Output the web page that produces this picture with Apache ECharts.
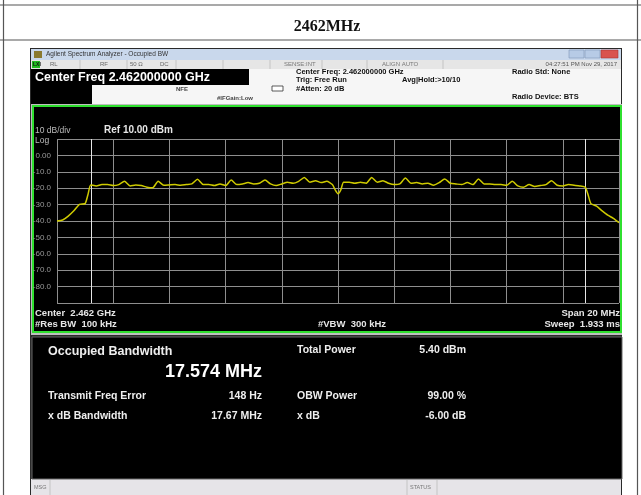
<!DOCTYPE html>
<html>
<head>
<meta charset="utf-8">
<title>2462MHz Occupied BW</title>
<script src="https://cdn.jsdelivr.net/npm/echarts@6/dist/echarts.min.js"></script>
<style>
  html, body { margin: 0; padding: 0; background: #fff; }
  #chart { width: 641px; height: 495px; }
</style>
</head>
<body>
<div id="chart"></div>
<script>
// trace (MHz / dBm)
const freqMHz = [
  2452.0, 2452.2, 2452.4, 2452.6, 2452.8, 2453.0, 2453.1, 2453.2, 2453.4, 2453.6,
  2453.8, 2454.0, 2454.2, 2454.4, 2454.6, 2454.8, 2455.0, 2455.2, 2455.4, 2455.6,
  2455.8, 2456.0, 2456.2, 2456.4, 2456.6, 2456.8, 2457.0, 2457.2, 2457.4, 2457.6,
  2457.8, 2458.0, 2458.2, 2458.4, 2458.6, 2458.8, 2459.0, 2459.2, 2459.4, 2459.6,
  2459.8, 2460.0, 2460.2, 2460.4, 2460.6, 2460.8, 2461.0, 2461.2, 2461.4, 2461.6,
  2461.8, 2461.9, 2462.0, 2462.1, 2462.2, 2462.4, 2462.6, 2462.8, 2463.0, 2463.2,
  2463.4, 2463.6, 2463.8, 2464.0, 2464.2, 2464.4, 2464.6, 2464.8, 2465.0, 2465.2,
  2465.4, 2465.6, 2465.8, 2466.0, 2466.2, 2466.4, 2466.6, 2466.8, 2467.0, 2467.2,
  2467.4, 2467.6, 2467.8, 2468.0, 2468.2, 2468.4, 2468.6, 2468.8, 2469.0, 2469.2,
  2469.4, 2469.6, 2469.8, 2470.0, 2470.2, 2470.4, 2470.6, 2470.8, 2470.9, 2471.0,
  2471.2, 2471.4, 2471.6, 2471.8, 2472.0
];
const levelDbm = [
  -40.0, -39.4, -37.0, -33.8, -29.8, -29.4, -24.0, -18.0, -18.6, -17.8,
  -17.8, -18.4, -17.8, -15.8, -18.6, -18.0, -18.4, -19.4, -19.8, -15.8,
  -18.2, -18.0, -17.8, -18.2, -17.8, -17.4, -14.6, -17.8, -17.8, -18.4,
  -17.4, -18.4, -15.0, -17.8, -17.4, -16.6, -17.4, -17.0, -15.0, -17.4,
  -18.4, -17.4, -16.4, -17.0, -15.8, -13.4, -16.4, -15.4, -16.6, -15.8,
  -17.8, -21.0, -23.4, -21.0, -16.4, -16.4, -17.0, -16.4, -17.0, -13.4,
  -16.4, -15.4, -17.0, -17.8, -17.4, -13.8, -17.0, -16.6, -17.4, -17.0,
  -18.2, -16.6, -14.4, -17.0, -17.4, -17.8, -16.6, -17.8, -14.4, -17.4,
  -17.4, -17.8, -17.8, -18.2, -15.8, -18.6, -19.4, -17.8, -19.0, -18.4,
  -17.8, -15.4, -18.2, -18.6, -17.8, -18.2, -18.6, -19.4, -24.0, -29.4,
  -31.0, -33.8, -36.4, -38.4, -41.0
];
const obwEdges = [2453.213, 2470.787];
const yTicks = [10, 0, -10, -20, -30, -40, -50, -60, -70, -80, -90];
const yTickLabels = ['', '0.00', '-10.0', '-20.0', '-30.0', '-40.0', '-50.0', '-60.0', '-70.0', '-80.0', ''];

const SANS = '"Liberation Sans", Arial, sans-serif';

function rect(x, y, w, h, fill, z, stroke, lw) {
  return {
    type: 'rect', z: z || 0, silent: true,
    shape: { x: x, y: y, width: w, height: h },
    style: { fill: fill, stroke: stroke || null, lineWidth: lw || 0 }
  };
}
function line(x1, y1, x2, y2, color, lw, z) {
  return {
    type: 'line', z: z || 1, silent: true,
    shape: { x1: x1, y1: y1, x2: x2, y2: y2 },
    style: { stroke: color, lineWidth: lw || 1 }
  };
}
function txt(x, y, s, font, color, align) {
  return {
    type: 'text', z: 20, silent: true,
    style: {
      text: s, x: x, y: y, font: font, fill: color,
      align: align || 'left', textAlign: align || 'left',
      verticalAlign: 'middle', textVerticalAlign: 'middle'
    }
  };
}

const graphics = [
  // document table
  line(0, 5, 641, 5, '#555', 1.2),
  line(0, 40, 641, 40, '#555', 1.2),
  line(3.5, 0, 3.5, 495, '#555', 1.2),
  line(637.5, 0, 637.5, 495, '#555', 1.2),
  txt(327, 27, '2462MHz', 'bold 16px "Liberation Serif", serif', '#111', 'center'),

  // analyzer window
  rect(30, 48, 592, 447, '#2a2a2a', -5),
  rect(31, 49, 590, 11, '#c9d8ec', -4),
  rect(34, 51, 8, 7, '#8a7a30', -3),
  txt(46, 54.5, 'Agilent Spectrum Analyzer - Occupied BW', '6.5px ' + SANS, '#333'),
  rect(569, 50, 15, 8, '#b7cbe6', -3, '#7f97b8', 0.6),
  rect(585, 50, 15, 8, '#b7cbe6', -3, '#7f97b8', 0.6),
  rect(601, 50, 17, 8, '#d9534f', -3, '#a33', 0.6),
  rect(31, 60, 590, 9, '#e6e6e6', -4),
  rect(32, 61, 8, 7, '#22bb22', -3),
  txt(33, 64.5, 'LXI', 'bold 5px ' + SANS, '#111'),
  txt(50, 64.5, 'RL', '6px ' + SANS, '#666'),
  txt(100, 64.5, 'RF', '6px ' + SANS, '#666'),
  txt(130, 64.5, '50 \u03a9', '6px ' + SANS, '#666'),
  txt(160, 64.5, 'DC', '6px ' + SANS, '#666'),
  txt(284, 64.5, 'SENSE:INT', '6px ' + SANS, '#777'),
  txt(382, 64.5, 'ALIGN AUTO', '6px ' + SANS, '#777'),
  txt(617, 64.5, '04:27:51 PM Nov 29, 2017', '6px ' + SANS, '#555', 'right'),
  line(80, 60, 80, 69, '#bbb', 0.8), line(127, 60, 127, 69, '#bbb', 0.8),
  line(176, 60, 176, 69, '#bbb', 0.8), line(223, 60, 223, 69, '#bbb', 0.8),
  line(270, 60, 270, 69, '#bbb', 0.8), line(322, 60, 322, 69, '#bbb', 0.8),
  line(367, 60, 367, 69, '#bbb', 0.8), line(443, 60, 443, 69, '#bbb', 0.8),

  // settings header
  rect(31, 69, 590, 35, '#f6f6f6', -4),
  rect(31, 69, 218, 16, '#000', -3),
  rect(31, 85, 61, 19, '#000', -3),
  txt(35, 77.5, 'Center Freq 2.462000000 GHz', 'bold 12.5px ' + SANS, '#fff'),
  txt(176, 89, 'NFE', 'bold 6px ' + SANS, '#444'),
  txt(217, 98, '#IFGain:Low', 'bold 6px ' + SANS, '#444'),
  rect(272, 86, 11, 5, '#fff', -2, '#333', 0.8),
  txt(296, 71.5, 'Center Freq: 2.462000000 GHz', 'bold 7.5px ' + SANS, '#111'),
  txt(296, 80, 'Trig: Free Run', 'bold 7.5px ' + SANS, '#111'),
  txt(402, 80, 'Avg|Hold:>10/10', 'bold 7.5px ' + SANS, '#111'),
  txt(296, 88.5, '#Atten: 20 dB', 'bold 7.5px ' + SANS, '#111'),
  txt(512, 71.5, 'Radio Std: None', 'bold 7.5px ' + SANS, '#111'),
  txt(512, 97, 'Radio Device: BTS', 'bold 7.5px ' + SANS, '#111'),

  // trace panel
  rect(31, 104, 591, 231, '#bfbfbf', -4),
  rect(33, 106, 588, 226, '#000', -3, '#2fe02f', 2),
  txt(35, 131, '10 dB/div', '8.5px ' + SANS, '#bbb'),
  txt(104, 130.5, 'Ref 10.00 dBm', 'bold 10px ' + SANS, '#e6e6e6'),
  txt(35, 141, 'Log', '8.5px ' + SANS, '#bbb'),
  txt(35, 313, 'Center  2.462 GHz', 'bold 9.5px ' + SANS, '#e6e6e6'),
  txt(35, 324, '#Res BW  100 kHz', 'bold 9.5px ' + SANS, '#e6e6e6'),
  txt(318, 324, '#VBW  300 kHz', 'bold 9.5px ' + SANS, '#e6e6e6'),
  txt(620, 313, 'Span 20 MHz', 'bold 9.5px ' + SANS, '#e6e6e6', 'right'),
  txt(620, 324, 'Sweep  1.933 ms', 'bold 9.5px ' + SANS, '#e6e6e6', 'right'),

  // results panel
  rect(32, 337, 590, 142, '#000', -3, '#666', 1),
  txt(48, 352, 'Occupied Bandwidth', 'bold 12.5px ' + SANS, '#eee'),
  txt(262, 372, '17.574 MHz', 'bold 18px ' + SANS, '#fff', 'right'),
  txt(297, 350, 'Total Power', 'bold 10.5px ' + SANS, '#eee'),
  txt(466, 350, '5.40 dBm', 'bold 10.5px ' + SANS, '#eee', 'right'),
  txt(48, 396, 'Transmit Freq Error', 'bold 10.5px ' + SANS, '#eee'),
  txt(262, 396, '148 Hz', 'bold 10.5px ' + SANS, '#eee', 'right'),
  txt(297, 396, 'OBW Power', 'bold 10.5px ' + SANS, '#eee'),
  txt(466, 396, '99.00 %', 'bold 10.5px ' + SANS, '#eee', 'right'),
  txt(48, 416, 'x dB Bandwidth', 'bold 10.5px ' + SANS, '#eee'),
  txt(262, 416, '17.67 MHz', 'bold 10.5px ' + SANS, '#eee', 'right'),
  txt(297, 416, 'x dB', 'bold 10.5px ' + SANS, '#eee'),
  txt(466, 416, '-6.00 dB', 'bold 10.5px ' + SANS, '#eee', 'right'),

  // status bar
  rect(31, 479, 590, 16, '#e6e4e8', -4),
  line(50, 480, 50, 495, '#bbb', 0.8),
  line(407, 480, 407, 495, '#bbb', 0.8),
  line(437, 480, 437, 495, '#bbb', 0.8),
  txt(34, 487, 'MSG', '5.5px ' + SANS, '#777'),
  txt(410, 487, 'STATUS', '5.5px ' + SANS, '#777')
];

const chart = echarts.init(document.getElementById('chart'), null, { renderer: 'canvas' });
chart.setOption({
  backgroundColor: '#fff',
  animation: false,
  graphic: { elements: graphics },
  grid: { left: 57, top: 139, width: 562, height: 164, containLabel: false },
  xAxis: {
    type: 'value', min: 2452, max: 2472, interval: 2,
    axisLine: { show: false }, axisTick: { show: false }, axisLabel: { show: false },
    splitLine: { show: true, lineStyle: { color: '#8e8e8e', width: 1 } }
  },
  yAxis: {
    type: 'value', min: -90, max: 10, interval: 10,
    axisLine: { show: false }, axisTick: { show: false },
    axisLabel: {
      margin: 6, color: '#9a9a9a', fontSize: 8, fontFamily: SANS,
      formatter: function (v) { const i = yTicks.indexOf(v); return i < 0 ? '' : yTickLabels[i]; }
    },
    splitLine: { show: true, lineStyle: { color: '#8e8e8e', width: 1 } }
  },
  series: [{
    type: 'line', z: 5,
    data: freqMHz.map(function (f, i) { return [f, levelDbm[i]]; }),
    showSymbol: false, smooth: 0.2,
    lineStyle: { color: '#cfcb00', width: 1.5 },
    markLine: {
      silent: true, symbol: 'none', label: { show: false },
      lineStyle: { color: '#e6e6e6', width: 1, type: 'solid' },
      data: obwEdges.map(function (f) { return { xAxis: f }; })
    }
  }]
});
</script>
</body>
</html>
